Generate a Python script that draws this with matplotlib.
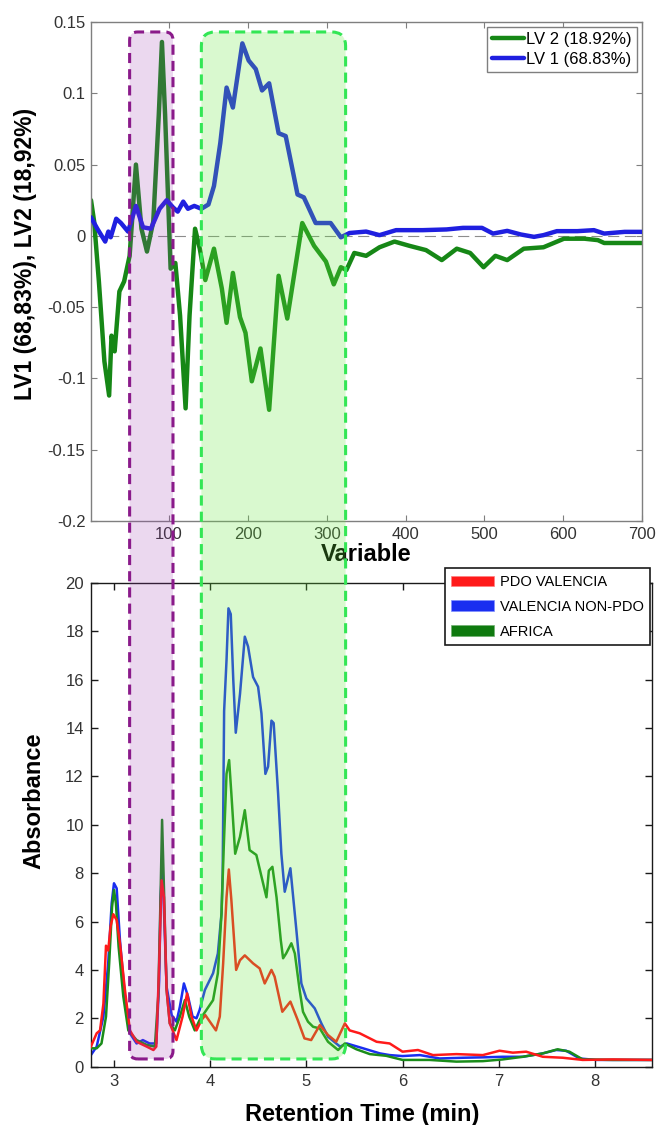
import matplotlib
matplotlib.use('Agg')
import matplotlib.pyplot as plt
from matplotlib import font_manager
from matplotlib.patches import FancyBboxPatch, Patch
from matplotlib.transforms import IdentityTransform

plt.rcParams['font.family'] = ['Liberation Sans', 'DejaVu Sans']

# PLS-DA loadings (variable index vs loading)
lv1_var = [1, 9, 19, 23, 26, 33, 39, 48, 58, 67, 77, 88, 97, 105, 111, 118, 124,
           132, 141, 150, 157, 165, 173, 181, 193, 201, 210, 218, 227, 239, 248,
           263, 271, 286, 305, 318, 329, 350, 367, 388, 422, 452, 473, 497, 511,
           529, 546, 563, 575, 592, 618, 639, 652, 678, 700]
lv1_load = [0.013, 0.005, -0.004, 0.003, -0.001, 0.012, 0.009, 0.003, 0.021, 0.006,
            0.005, 0.019, 0.025, 0.020, 0.017, 0.024, 0.019, 0.021, 0.019, 0.022,
            0.035, 0.065, 0.104, 0.090, 0.135, 0.123, 0.117, 0.102, 0.107, 0.072,
            0.070, 0.029, 0.027, 0.009, 0.009, -0.001, 0.002, 0.003, 0.0005, 0.004,
            0.004, 0.0045, 0.0056, 0.0056, 0.0016, 0.0035, 0.001, -0.0007, 0.0005,
            0.0033, 0.0033, 0.004, 0.0016, 0.0028, 0.0028]

lv2_var = [1, 5, 11, 18, 24, 27, 31, 37, 43, 50, 58, 65, 72, 80, 87, 91, 95, 102,
           108, 114, 121, 126, 133, 139, 146, 157, 167, 173, 181, 190, 197, 205,
           216, 227, 239, 250, 269, 284, 299, 309, 318, 325, 335, 350, 367, 386,
           405, 426, 446, 465, 482, 499, 514, 529, 550, 575, 601, 627, 644, 652,
           678, 700]
lv2_load = [0.025, 0.010, -0.032, -0.088, -0.112, -0.070, -0.081, -0.039, -0.032,
            -0.014, 0.050, 0.005, -0.011, 0.010, 0.085, 0.136, 0.085, -0.023,
            -0.019, -0.056, -0.121, -0.056, 0.005, -0.009, -0.031, -0.009, -0.037,
            -0.061, -0.026, -0.057, -0.068, -0.102, -0.079, -0.122, -0.028, -0.058,
            0.009, -0.007, -0.018, -0.034, -0.022, -0.024, -0.012, -0.014, -0.008,
            -0.004, -0.007, -0.010, -0.017, -0.009, -0.012, -0.022, -0.014, -0.017,
            -0.009, -0.008, -0.002, -0.002, -0.003, -0.005, -0.005, -0.005]

# chromatograms (retention time in min vs absorbance)
pdo_time = [2.76, 2.82, 2.855, 2.89, 2.917, 2.94, 2.965, 2.993, 3.028, 3.062,
            3.114, 3.166, 3.235, 3.34, 3.41, 3.44, 3.47, 3.495, 3.52, 3.547,
            3.58, 3.65, 3.713, 3.76, 3.806, 3.858, 3.91, 3.95, 3.997, 4.06,
            4.10, 4.135, 4.17, 4.194, 4.22, 4.27, 4.31, 4.36, 4.446, 4.515,
            4.567, 4.637, 4.67, 4.75, 4.834, 4.91, 4.98, 5.05, 5.14, 5.225,
            5.31, 5.40, 5.45, 5.555, 5.73, 5.866, 6.0, 6.16, 6.316, 6.56,
            6.835, 7.008, 7.146, 7.285, 7.458, 7.665, 7.873, 8.185, 8.59]
pdo_abs = [0.83, 1.38, 1.5, 2.6, 5.0, 4.8, 5.8, 6.3, 6.06, 5.1,
           3.17, 1.5, 1.03, 0.83, 0.69, 0.83, 4.27, 7.7, 7.0, 3.17,
           1.79, 1.1, 2.07, 3.03, 2.07, 1.5, 1.93, 2.13, 1.86, 1.5,
           2.07, 4.27, 7.0, 8.15, 6.9, 4.0, 4.4, 4.6, 4.27, 4.06,
           3.44, 4.0, 3.72, 2.27, 2.69, 1.93, 1.17, 1.1, 1.72, 1.31,
           1.03, 1.79, 1.5, 1.38, 1.03, 0.96, 0.62, 0.69, 0.48, 0.52,
           0.48, 0.66, 0.58, 0.62, 0.41, 0.37, 0.28, 0.30, 0.28]

nonpdo_time = [2.76, 2.82, 2.89, 2.94, 2.976, 3.0, 3.028, 3.062, 3.114, 3.166,
               3.235, 3.30, 3.37, 3.44, 3.47, 3.485, 3.50, 3.515, 3.547, 3.60,
               3.65, 3.685, 3.727, 3.77, 3.817, 3.858, 3.89, 3.945, 4.03, 4.08,
               4.118, 4.13, 4.145, 4.17, 4.19, 4.214, 4.24, 4.266, 4.31, 4.36,
               4.394, 4.446, 4.498, 4.533, 4.574, 4.602, 4.637, 4.66, 4.706, 4.74,
               4.775, 4.834, 4.896, 4.948, 5.0, 5.087, 5.156, 5.225, 5.35, 5.42,
               5.59, 5.764, 5.866, 6.0, 6.18, 6.385, 6.63, 6.87, 7.04, 7.25,
               7.458, 7.596, 7.70, 7.84, 8.01, 8.35, 8.59]
nonpdo_abs = [0.48, 0.83, 2.07, 4.27, 6.75, 7.58, 7.37, 5.23, 2.9, 1.38,
              0.96, 1.1, 0.96, 0.96, 3.58, 7.0, 8.2, 7.0, 3.3, 2.13,
              1.86, 2.48, 3.44, 2.9, 2.07, 2.0, 2.34, 3.17, 3.86, 4.68,
              6.34, 8.0, 14.7, 16.8, 18.94, 18.7, 16.0, 13.8, 15.4, 17.77,
              17.36, 16.1, 15.7, 14.6, 12.1, 12.4, 14.3, 14.2, 11.3, 8.8,
              7.23, 8.2, 5.65, 3.44, 2.82, 2.41, 1.79, 1.24, 0.83, 0.96,
              0.76, 0.55, 0.48, 0.44, 0.48, 0.34, 0.37, 0.39, 0.41, 0.41,
              0.55, 0.69, 0.66, 0.34, 0.28, 0.28, 0.28]

africa_time = [2.76, 2.82, 2.87, 2.917, 2.95, 2.98, 3.0, 3.02, 3.048, 3.097,
               3.149, 3.235, 3.34, 3.425, 3.46, 3.484, 3.50, 3.522, 3.547, 3.58,
               3.633, 3.685, 3.737, 3.782, 3.84, 3.89, 3.96, 4.03, 4.08, 4.118,
               4.14, 4.17, 4.197, 4.22, 4.26, 4.31, 4.36, 4.41, 4.48, 4.55,
               4.585, 4.61, 4.647, 4.69, 4.734, 4.758, 4.79, 4.844, 4.88, 4.93,
               4.965, 5.017, 5.07, 5.14, 5.225, 5.33, 5.40, 5.52, 5.66, 5.83,
               6.0, 6.28, 6.56, 6.835, 7.04, 7.25, 7.458, 7.613, 7.735, 7.873,
               8.185, 8.59]
africa_abs = [0.76, 0.76, 0.96, 2.07, 4.27, 6.6, 7.3, 6.75, 4.96, 2.9,
              1.5, 1.1, 0.9, 0.83, 2.9, 7.0, 10.2, 7.0, 3.17, 1.79,
              1.5, 2.07, 2.75, 2.07, 1.5, 1.93, 2.34, 2.75, 3.86, 6.34,
              8.95, 12.1, 12.67, 11.3, 8.8, 9.5, 10.6, 8.95, 8.75, 7.58,
              7.0, 8.1, 8.26, 7.0, 5.23, 4.48, 4.68, 5.1, 4.68, 3.17,
              2.27, 1.86, 1.65, 1.58, 1.03, 0.69, 0.96, 0.72, 0.52, 0.45,
              0.28, 0.28, 0.21, 0.23, 0.30, 0.41, 0.55, 0.72, 0.62, 0.30,
              0.28, 0.28]

top_yticks = [-0.2, -0.15, -0.1, -0.05, 0, 0.05, 0.1, 0.15]
top_ytick_labels = ['-0.2', '-0.15', '-0.1', '-0.05', '0', '0.05', '0.1', '0.15']
top_xticks = [100, 200, 300, 400, 500, 600, 700]
bottom_xticks = [3, 4, 5, 6, 7, 8]
bottom_yticks = list(range(0, 21, 2))

# highlighted variable windows (in variable index) and their vertical reach
regions = [
    {'var': (50, 105), 'face': (0.62, 0.24, 0.70, 0.20), 'edge': '#8a1a8a', 'round': 8},
    {'var': (141, 324), 'face': (0.42, 0.92, 0.26, 0.25), 'edge': '#33e655', 'round': 14},
]
region_top_load = 0.143
region_bottom_abs = 0.32

W, H = 656, 1125
fig = plt.figure(figsize=(W / 100, H / 100), dpi=100)

ax1 = fig.add_axes([91 / W, 1 - 521 / H, 551 / W, 499 / H], facecolor='none')
ax2 = fig.add_axes([90.7 / W, 1 - 1066.7 / H, 561 / W, 484 / H], facecolor='none')

tick_color = '#333333'

# --- loadings plot
ax1.axhline(0, color='#8c8c8c', lw=0.8, linestyle=(0, (10, 5)), zorder=1)
l_lv1, = ax1.plot(lv1_var, lv1_load, color='#1f1fe0', lw=3.2,
                  solid_joinstyle='round', solid_capstyle='round', zorder=3)
l_lv2, = ax1.plot(lv2_var, lv2_load, color='#168716', lw=3.2,
                  solid_joinstyle='round', solid_capstyle='round', zorder=2)
ax1.set_xlim(1, 700)
ax1.set_ylim(-0.2, 0.15)
ax1.set_xticks(top_xticks)
ax1.set_yticks(top_yticks)
ax1.set_yticklabels(top_ytick_labels)
ax1.tick_params(direction='in', length=4, width=0.8, top=True, right=True,
                color='#7f7f7f', labelsize=12, labelcolor=tick_color, pad=4)
for s in ax1.spines.values():
    s.set_color('#7f7f7f')
    s.set_linewidth(1.0)
ax1.set_xlabel('Variable', fontsize=17, fontweight='bold', labelpad=1)
ax1.set_ylabel('LV1 (68,83%), LV2 (18,92%)', fontsize=16.5, fontweight='bold')
ax1.yaxis.set_label_coords(-0.098, 0.535)
leg1 = ax1.legend([l_lv2, l_lv1], ['LV 2 (18.92%)', 'LV 1 (68.83%)'],
                  loc='upper right', fontsize=12, frameon=True, fancybox=False,
                  edgecolor='#7f7f7f', framealpha=1, handlelength=1.9,
                  handletextpad=0.15, labelspacing=0.3, borderpad=0.3,
                  borderaxespad=0.3)
leg1.get_frame().set_linewidth(1.0)

# --- chromatograms
ax2.plot(nonpdo_time, nonpdo_abs, color='#1a2ef0', lw=1.8, zorder=2)
ax2.plot(africa_time, africa_abs, color='#1a8c1a', lw=1.8, zorder=3)
ax2.plot(pdo_time, pdo_abs, color='#ff1a1a', lw=1.8, zorder=4)
ax2.set_xlim(2.758, 8.59)
ax2.set_ylim(0, 20)
ax2.set_xticks(bottom_xticks)
ax2.set_yticks(bottom_yticks)
ax2.tick_params(direction='in', length=5, width=1.0, top=True, right=True,
                color='#1a1a1a', labelsize=12, labelcolor=tick_color, pad=5)
for s in ax2.spines.values():
    s.set_color('#1a1a1a')
    s.set_linewidth(1.0)
ax2.set_xlabel('Retention Time (min)', fontsize=17, fontweight='bold', labelpad=12)
ax2.xaxis.set_label_coords(0.484, -0.075)
ax2.set_ylabel('Absorbance', fontsize=17, fontweight='bold')
ax2.yaxis.set_label_coords(-0.081, 0.549)

# condensed face if available, otherwise a smaller regular one
legend_prop = {'family': 'Liberation Sans', 'size': 10.5}
if any(f.name == 'Liberation Sans Narrow' for f in font_manager.fontManager.ttflist):
    legend_prop = {'family': 'Liberation Sans Narrow', 'size': 12.5}
handles = [Patch(facecolor='#ff1a1a', edgecolor='#ff8080', lw=0.5),
           Patch(facecolor='#1a2ef0', edgecolor='#8090ff', lw=0.5),
           Patch(facecolor='#0f7a0f', edgecolor='#70b070', lw=0.5)]
leg2 = ax2.legend(handles, ['PDO VALENCIA', 'VALENCIA NON-PDO', 'AFRICA'],
                  loc='upper right', bbox_to_anchor=(0.997, 1.03),
                  prop=legend_prop, frameon=True,
                  fancybox=False, edgecolor='#1a1a1a', framealpha=1,
                  handlelength=2.9, handleheight=0.7, handletextpad=0.4,
                  labelspacing=0.75, borderpad=0.45, borderaxespad=0)
leg2.get_frame().set_linewidth(1.2)

# --- rounded dashed windows spanning both panels
for reg in regions:
    x0, y0 = ax1.transData.transform((reg['var'][0], region_top_load))
    x1, _ = ax1.transData.transform((reg['var'][1], region_top_load))
    _, yb = ax2.transData.transform((3.0, region_bottom_abs))
    box = FancyBboxPatch((x0, yb), x1 - x0, y0 - yb,
                         boxstyle=f"round,pad=0,rounding_size={reg['round']}",
                         facecolor=reg['face'], edgecolor=reg['edge'], lw=2.2,
                         linestyle=(0, (3.3, 2.0)), transform=IdentityTransform(),
                         zorder=5)
    fig.add_artist(box)

fig.savefig('out.png', dpi=100)
